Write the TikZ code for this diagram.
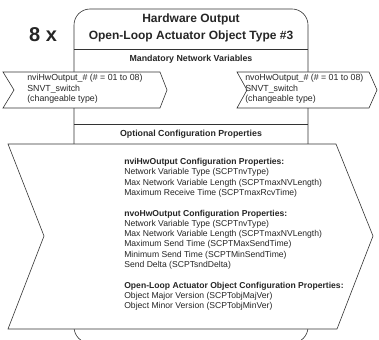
\documentclass[tikz,border=0pt]{standalone}
\usepackage{fontspec}
\setmainfont{Liberation Sans}
\usepackage{tikz}
\usetikzlibrary{calc,positioning}

\tikzset{
  txt/.style={inner sep=0pt, align=left, anchor=north west, text=black!85,
    font=\fontsize{8.6}{10.3}\selectfont},
  hdr/.style={inner sep=0pt, text=black!85, font=\fontsize{8.8}{11}\selectfont\bfseries},
  nvbox/.style={draw=black!80, fill=white, line width=0.6pt}
}

\begin{document}
\begin{tikzpicture}[x=1pt,y=-1pt,line width=0.6pt]
\useasboundingbox (0,0) rectangle (379,339);
\coordinate (TL) at (74,9);
\coordinate (BR) at (308,343);
% object box
\draw[black!80,rounded corners=16pt] (TL) rectangle (BR);
\draw[black!80] (74,49) -- (308,49);
\draw[black!80] (74,124) -- (308,124);
\node[inner sep=0pt, align=center, text=black!85, font=\fontsize{12}{16.5}\selectfont\bfseries] (title) at (191,28) {Hardware Output\\Open-Loop Actuator Object Type \#3};
\node[inner sep=0pt, text=black!85, font=\fontsize{20}{21}\selectfont\bfseries] (count) at (43,35) {8 x};
\node[hdr] (mand) at (191,59) {Mandatory Network Variables};
\node[hdr] (opt) at (191,134) {Optional Configuration Properties};
% network variables
\draw[nvbox] (3,72) -- (160,72) -- (167,90) -- (160,108) -- (3,108) -- (14,90) -- cycle;
\node[txt, font=\fontsize{8.8}{10.5}\selectfont] (nvi) at (27,74) {nviHwOutput\_\# (\# = 01 to 08)\\SNVT\_switch\\(changeable type)};
\draw[nvbox] (237,72) -- (369,72) -- (377,90) -- (369,108) -- (237,108) -- (247,90) -- cycle;
\node[txt, font=\fontsize{8.8}{10.5}\selectfont] (nvo) at (245,74) {nvoHwOutput\_\# (\# = 01 to 08)\\SNVT\_switch\\(changeable type)};
% configuration properties
\draw[nvbox] (8,144) -- (336,144) -- (373,236) -- (337,329) -- (8,329) -- (44,236) -- cycle;
\node[txt] (cp) at (124,158) {\textbf{nviHwOutput Configuration Properties:}\\
Network Variable Type (SCPTnvType)\\
Max Network Variable Length (SCPTmaxNVLength)\\
Maximum Receive Time (SCPTmaxRcvTime)\\[10.3pt]
\textbf{nvoHwOutput Configuration Properties:}\\
Network Variable Type (SCPTnvType)\\
Max Network Variable Length (SCPTmaxNVLength)\\
Maximum Send Time (SCPTMaxSendTime)\\
Minimum Send Time (SCPTMinSendTime)\\
Send Delta (SCPTsndDelta)\\[10.3pt]
\textbf{Open-Loop Actuator Object Configuration Properties:}\\
Object Major Version (SCPTobjMajVer)\\
Object Minor Version (SCPTobjMinVer)};
\end{tikzpicture}
\end{document}
